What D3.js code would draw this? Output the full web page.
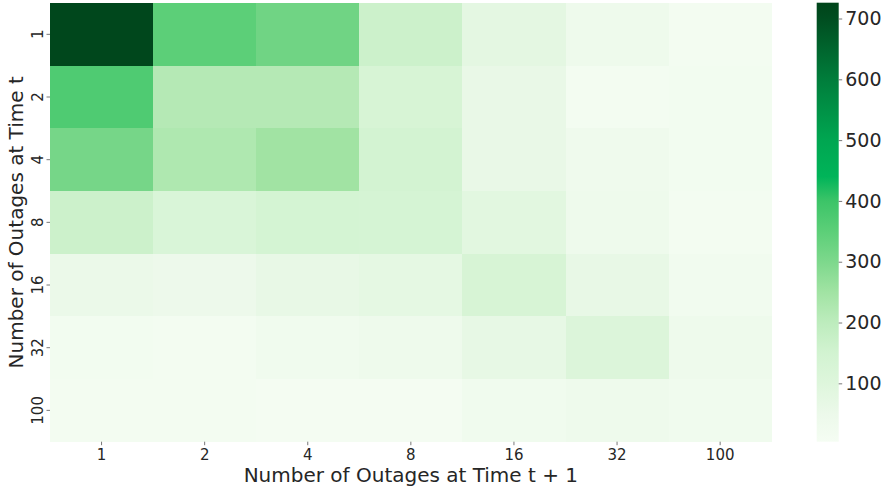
<!DOCTYPE html>
<html>
<head>
<meta charset="utf-8">
<script src="https://cdn.jsdelivr.net/npm/d3@7"></script>
<style>
  html, body { margin: 0; padding: 0; background: #fff; }
  svg { display: block; font-family: "DejaVu Sans", sans-serif; }
</style>
</head>
<body>
<svg id="chart" width="888" height="488"></svg>
<script>
// ---- data ----
const xCategories = ["1", "2", "4", "8", "16", "32", "100"];
const yCategories = ["1", "2", "4", "8", "16", "32", "100"];
const row1   = [718, 350, 320, 165, 80, 40, 15];
const row2   = [370, 215, 215, 130, 60, 15, 17];
const row4   = [310, 225, 250, 145, 60, 35, 18];
const row8   = [165, 120, 140, 138, 85, 40, 15];
const row16  = [55, 45, 65, 75, 130, 65, 22];
const row32  = [17, 12, 30, 38, 68, 110, 42];
const row100 = [12, 12, 10, 10, 30, 42, 32];
const rows = [row1, row2, row4, row8, row16, row32, row100];
const colorTicks = [100, 200, 300, 400, 500, 600, 700];
const colorDomain = [4, 726];
const xLabel = "Number of Outages at Time t + 1";
const yLabel = "Number of Outages at Time t";

// colormap stops (value -> colour)
const cmapValues = [4, 50, 100, 150, 200, 250, 300, 350, 400, 440, 500, 600, 700, 726];
const cmapColors = ["#f5fdf3", "#ecf9ea", "#def6dc", "#d2f3d1", "#bdecbd", "#a1e3a3", "#7dd88c",
                    "#5ccf78", "#3cc468", "#00b459", "#00a651", "#007d3b", "#004d20", "#00441a"];

// ---- layout ----
const svg = d3.select("#chart");
const plot = { left: 50, top: 3, right: 771.7, bottom: 441.7 };
const cbar = { left: 816.7, right: 838.7, top: 2.7, bottom: 441.7 };
const textColor = "#262626";

const color = d3.scaleLinear().domain(cmapValues).range(cmapColors).interpolate(d3.interpolateRgb).clamp(true);

const x = d3.scaleBand().domain(xCategories).range([plot.left, plot.right]).padding(0);
const y = d3.scaleBand().domain(yCategories).range([plot.top, plot.bottom]).padding(0);

const cells = [];
rows.forEach((r, i) => r.forEach((v, j) => cells.push({ row: yCategories[i], col: xCategories[j], v })));

svg.append("g").selectAll("rect").data(cells).join("rect")
  .attr("x", d => x(d.col))
  .attr("y", d => y(d.row))
  .attr("width", x.bandwidth() + 0.5)
  .attr("height", y.bandwidth() + 0.5)
  .attr("fill", d => color(d.v))
  .attr("shape-rendering", "crispEdges");

// x axis
const xAxis = svg.append("g")
  .attr("transform", `translate(0,${plot.bottom})`)
  .call(d3.axisBottom(x).tickSize(3.5).tickPadding(4));
xAxis.select(".domain").remove();
xAxis.selectAll(".tick line").attr("stroke", "#555").attr("stroke-width", 0.8);
xAxis.selectAll(".tick text").attr("font-size", 15).attr("fill", textColor)
  .attr("font-family", "DejaVu Sans, sans-serif");

// y axis (labels rotated)
const yAxis = svg.append("g")
  .attr("transform", `translate(${plot.left},0)`)
  .call(d3.axisLeft(y).tickSize(3.5).tickPadding(4));
yAxis.select(".domain").remove();
yAxis.selectAll(".tick line").attr("stroke", "#555").attr("stroke-width", 0.8);
yAxis.selectAll(".tick text")
  .attr("font-size", 15).attr("fill", textColor)
  .attr("font-family", "DejaVu Sans, sans-serif")
  .attr("x", null).attr("dy", null)
  .attr("text-anchor", "middle")
  .attr("transform", "translate(-12.5,0) rotate(-90)")
  .attr("dy", "0.35em");

// axis titles
svg.append("text")
  .attr("x", (plot.left + plot.right) / 2)
  .attr("y", 482)
  .attr("text-anchor", "middle")
  .attr("font-size", 20)
  .attr("fill", textColor)
  .text(xLabel);

svg.append("text")
  .attr("transform", `translate(22.5,${(plot.top + plot.bottom) / 2}) rotate(-90)`)
  .attr("text-anchor", "middle")
  .attr("font-size", 20)
  .attr("fill", textColor)
  .text(yLabel);

// colorbar
const cScale = d3.scaleLinear().domain(colorDomain).range([cbar.bottom, cbar.top]);
const defs = svg.append("defs");
const grad = defs.append("linearGradient").attr("id", "cbgrad")
  .attr("x1", 0).attr("y1", 1).attr("x2", 0).attr("y2", 0);
cmapValues.forEach((v, i) => {
  grad.append("stop")
    .attr("offset", (v - colorDomain[0]) / (colorDomain[1] - colorDomain[0]))
    .attr("stop-color", cmapColors[i]);
});
svg.append("rect")
  .attr("x", cbar.left).attr("y", cbar.top)
  .attr("width", cbar.right - cbar.left).attr("height", cbar.bottom - cbar.top)
  .attr("fill", "url(#cbgrad)");

const cAxis = svg.append("g")
  .attr("transform", `translate(${cbar.right},0)`)
  .call(d3.axisRight(cScale).tickValues(colorTicks).tickSize(3.5).tickPadding(3));
cAxis.select(".domain").remove();
cAxis.selectAll(".tick line").attr("stroke", "#555").attr("stroke-width", 0.8);
cAxis.selectAll(".tick text").attr("font-size", 19).attr("fill", textColor)
  .attr("font-family", "DejaVu Sans, sans-serif");
</script>
</body>
</html>
